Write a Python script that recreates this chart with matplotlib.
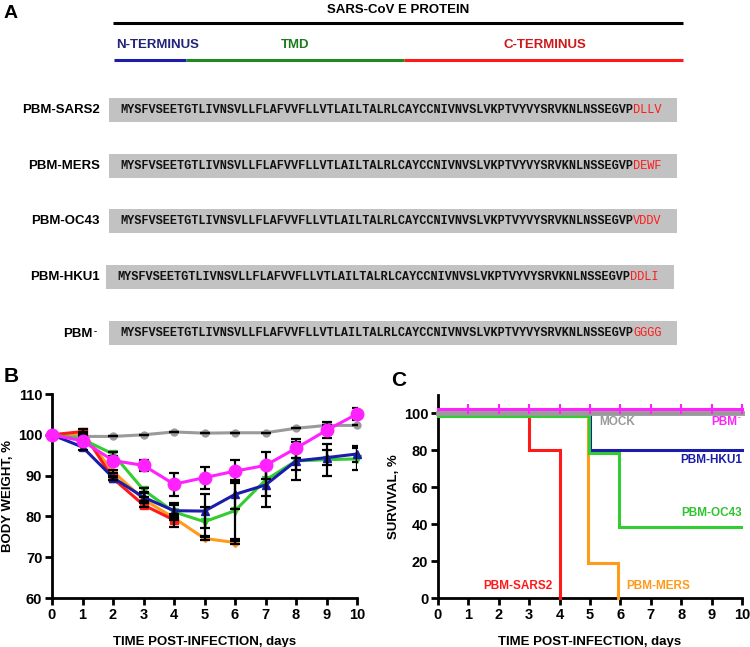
import numpy as np
import matplotlib.pyplot as plt

plt.rcParams['font.family'] = ['Liberation Sans', 'DejaVu Sans']
plt.rcParams['font.weight'] = 'bold'
plt.rcParams['axes.labelweight'] = 'bold'

W, H = 750, 647

# ---- panel A: sequences ----
seq_names = ["PBM-SARS2", "PBM-MERS", "PBM-OC43", "PBM-HKU1", "PBM"]
seq_core = "MYSFVSEETGTLIVNSVLLFLAFVVFLLVTLAILTALRLCAYCCNIVNVSLVKPTVYVYSRVKNLNSSEGVP"
seq_pbm = ["DLLV", "DEWF", "VDDV", "DDLI", "GGGG"]

# ---- panel B: body weight ----
days = np.arange(0, 11)
weight = {
    "MOCK":      [100, 99.6, 99.6, 100.0, 100.7, 100.4, 100.5, 100.5, 101.6, 102.3, 102.3],
    "PBM-SARS2": [100, 100.8, 89.3, 82.8, 79.1],
    "PBM-MERS":  [100, 100.4, 91.0, 84.2, 79.6, 74.6, 73.6],
    "PBM-OC43":  [100, 98.9, 95.3, 86.5, 81.1, 78.7, 81.4, 88.9, 93.6, 93.9, 94.1],
    "PBM-HKU1":  [100, 97.0, 89.5, 84.7, 81.4, 81.3, 85.4, 87.7, 93.6, 94.4, 95.3],
    "PBM-":      [100, 98.5, 93.7, 92.5, 87.9, 89.5, 91.1, 92.5, 96.7, 101.1, 105.1],
}
weight_err = {
    "MOCK":      [0, 0, 0, 0, 0, 0, 0, 0, 0, 0, 0],
    "PBM-SARS2": [0, 0.5, 0.4, 0.5, 1.6],
    "PBM-MERS":  [0, 0.3, 0.4, 0.5, 0.6, 0.5, 0.4],
    "PBM-OC43":  [0, 0.5, 0.5, 0.5, 1.6, 3.7, 7.0, 3.9, 2.2, 3.9, 2.7],
    "PBM-HKU1":  [0, 0.8, 0.5, 1.0, 2.0, 4.1, 3.5, 5.3, 4.7, 1.9, 2.0],
    "PBM-":      [0, 0.5, 0.5, 1.4, 2.8, 2.7, 2.8, 3.3, 2.3, 2.0, 1.5],
}

# ---- panel C: survival ----
surv_times = {
    "PBM-SARS2": [0, 3, 4],
    "PBM-MERS":  [0, 5, 6],
    "PBM-OC43":  [0, 5, 6],
    "PBM-HKU1":  [0, 5],
    "MOCK":      [0],
    "PBM-":      [0],
}
surv_vals = {
    "PBM-SARS2": [100, 80, 0],
    "PBM-MERS":  [100, 20, 0],
    "PBM-OC43":  [100, 80, 40],
    "PBM-HKU1":  [100, 80],
    "MOCK":      [100],
    "PBM-":      [100],
}

colors = {
    "MOCK": "#9a9a9a",
    "PBM-SARS2": "#ff1a1a",
    "PBM-MERS": "#ff9a1a",
    "PBM-OC43": "#33cc33",
    "PBM-HKU1": "#1c1caa",
    "PBM-": "#ff22ff",
}
markers = {"MOCK": ("o", 5), "PBM-SARS2": ("s", 6), "PBM-MERS": ("D", 4),
           "PBM-OC43": ("v", 6), "PBM-HKU1": ("^", 6), "PBM-": ("o", 9)}

fig = plt.figure(figsize=(W / 100, H / 100), dpi=100)

# overlay axes in pixel units for panel A and panel letters
axA = fig.add_axes([0, 0, 1, 1])
axA.set_xlim(0, W)
axA.set_ylim(H, 0)
axA.axis('off')


def sup_minus(ax, txt, size, color):
    # small raised dash after "PBM"
    ax.annotate("-", xy=(1, 1), xycoords=txt, xytext=(0.5, 1), textcoords='offset points',
                ha='left', va='top', fontsize=size * 0.7, color=color)


axA.text(4, 13, "A", fontsize=14, ha='left', va='center')
axA.text(398, 10, "SARS-CoV E PROTEIN", fontsize=9.5, ha='center', va='center')
axA.plot([113, 683], [23, 23], color='black', lw=2.2, solid_capstyle='butt')
axA.text(158, 45, "N-TERMINUS", fontsize=9.5, ha='center', va='center', color='#23237a')
axA.text(295, 45, "TMD", fontsize=9.5, ha='center', va='center', color='#1d7a1d')
axA.text(545, 45, "C-TERMINUS", fontsize=9.5, ha='center', va='center', color='#cc1a1a')
axA.plot([114, 186], [60, 60], color='#1c1caa', lw=2.2, solid_capstyle='butt')
axA.plot([186, 404], [60, 60], color='#1f8a1f', lw=2.2, solid_capstyle='butt')
axA.plot([404, 683], [60, 60], color='#ff1a1a', lw=2.2, solid_capstyle='butt')

row_y = [110, 166, 221, 277, 333]
for i, (name, pbm) in enumerate(zip(seq_names, seq_pbm)):
    y = row_y[i]
    x0 = 106 if i == 3 else 109
    axA.add_patch(plt.Rectangle((x0, y - 12), 568, 24, color='#c2c2c2', lw=0))
    if i == 4:
        lab = axA.text(93, y + 1, name, fontsize=9.5, ha='right', va='center')
        sup_minus(axA, lab, 9.5, 'black')
    else:
        axA.text(100, y, name, fontsize=9.5, ha='right', va='center')
    t = axA.text(x0 + 11, y, seq_core, fontsize=8.6, ha='left', va='center',
                 family='Liberation Mono', weight='bold', color='#111111')
    axA.annotate(pbm, xy=(1, 0), xycoords=t, ha='left', va='bottom', fontsize=8.6,
                 family='Liberation Mono', weight='normal', color='#ff1a1a')

axA.text(4, 377, "B", fontsize=15, ha='left', va='center')
axA.text(391, 381, "C", fontsize=15, ha='left', va='center')


def style_axes(ax):
    for s in ['top', 'right']:
        ax.spines[s].set_visible(False)
    for s in ['left', 'bottom']:
        ax.spines[s].set_linewidth(2)
    ax.tick_params(width=2, length=5, labelsize=10.5, pad=2)
    for lab in ax.get_xticklabels() + ax.get_yticklabels():
        lab.set_fontweight('bold')


# ---- panel B ----
axB = fig.add_axes([52 / W, (H - 598) / H, (357 - 52) / W, (598 - 394) / H])
order = ["MOCK", "PBM-MERS", "PBM-SARS2", "PBM-OC43", "PBM-HKU1", "PBM-"]
for k in order:
    y = np.array(weight[k])
    x = days[:len(y)]
    axB.errorbar(x, y, yerr=weight_err[k], fmt='none', ecolor='black',
                 elinewidth=1.6, capsize=3.5, capthick=1.6, zorder=5)
for k in order:
    y = np.array(weight[k])
    x = days[:len(y)]
    m, ms = markers[k]
    axB.plot(x, y, color=colors[k], lw=2.2, marker=m, ms=ms, zorder=4 if k != "PBM-" else 6,
             clip_on=False)
axB.set_xlim(0, 10)
axB.set_ylim(60, 110)
axB.set_xticks(days)
axB.set_yticks(np.arange(60, 111, 10))
axB.set_xlabel("TIME POST-INFECTION, days", fontsize=9.5, labelpad=10)
axB.set_ylabel("BODY WEIGHT, %", fontsize=9.5, labelpad=3)
style_axes(axB)

# ---- panel C ----
axC = fig.add_axes([438 / W, (H - 598) / H, (742 - 438) / W, (598 - 395) / H])
y_off = {"PBM-": 2.2, "MOCK": 0.5, "PBM-OC43": -1.3, "PBM-MERS": -1.3,
         "PBM-SARS2": 0, "PBM-HKU1": 0}
x_off = {"PBM-MERS": -0.08, "PBM-OC43": -0.04}
c_order = ["PBM-SARS2", "PBM-HKU1", "PBM-MERS", "PBM-OC43", "MOCK", "PBM-"]
for k in c_order:
    t = list(surv_times[k])
    v = list(surv_vals[k])
    xs, ys = [t[0]], [v[0]]
    for j in range(1, len(t)):
        xs += [t[j], t[j]]
        ys += [v[j - 1], v[j]]
    if v[-1] > 0:
        xs.append(10)
        ys.append(v[-1])
    xs = np.array(xs, float) + x_off.get(k, 0)
    ys = np.array(ys, float)
    ys = np.where(ys > 0, ys + y_off[k], ys)
    xs[0] = 0
    lw = 3.5 if k == "MOCK" else 2.2
    axC.plot(xs, ys, color=colors[k], lw=lw, clip_on=False, zorder=3,
             solid_joinstyle='miter')
censor = np.arange(1, 11)
axC.plot(censor, np.full(len(censor), 100 + y_off["PBM-"]), ls='none', marker='|',
         ms=7, mew=1.5, color=colors["PBM-"], clip_on=False, zorder=4)
axC.set_xlim(0, 10)
axC.set_ylim(0, 110)
axC.set_xticks(days)
axC.set_yticks(np.arange(0, 101, 20))
axC.set_xlabel("TIME POST-INFECTION, days", fontsize=9.5, labelpad=10)
axC.set_ylabel("SURVIVAL, %", fontsize=9.5, labelpad=3)
style_axes(axC)

lab_kw = dict(fontsize=8.5, transform=axC.transData)
axC.text(5.3, 95.5, "MOCK", color=colors["MOCK"], ha='left', va='center', **lab_kw)
pm = axC.text(9.83, 95.5, "PBM", color=colors["PBM-"], ha='right', va='center', **lab_kw)
sup_minus(axC, pm, 8.5, colors["PBM-"])
axC.text(10, 75, "PBM-HKU1", color=colors["PBM-HKU1"], ha='right', va='center', **lab_kw)
axC.text(10, 46, "PBM-OC43", color='#2ec42e', ha='right', va='center', **lab_kw)
axC.text(1.5, 6.5, "PBM-SARS2", color=colors["PBM-SARS2"], ha='left', va='center', **lab_kw)
axC.text(6.2, 6.5, "PBM-MERS", color=colors["PBM-MERS"], ha='left', va='center', **lab_kw)

fig.savefig("out.png", dpi=100)
